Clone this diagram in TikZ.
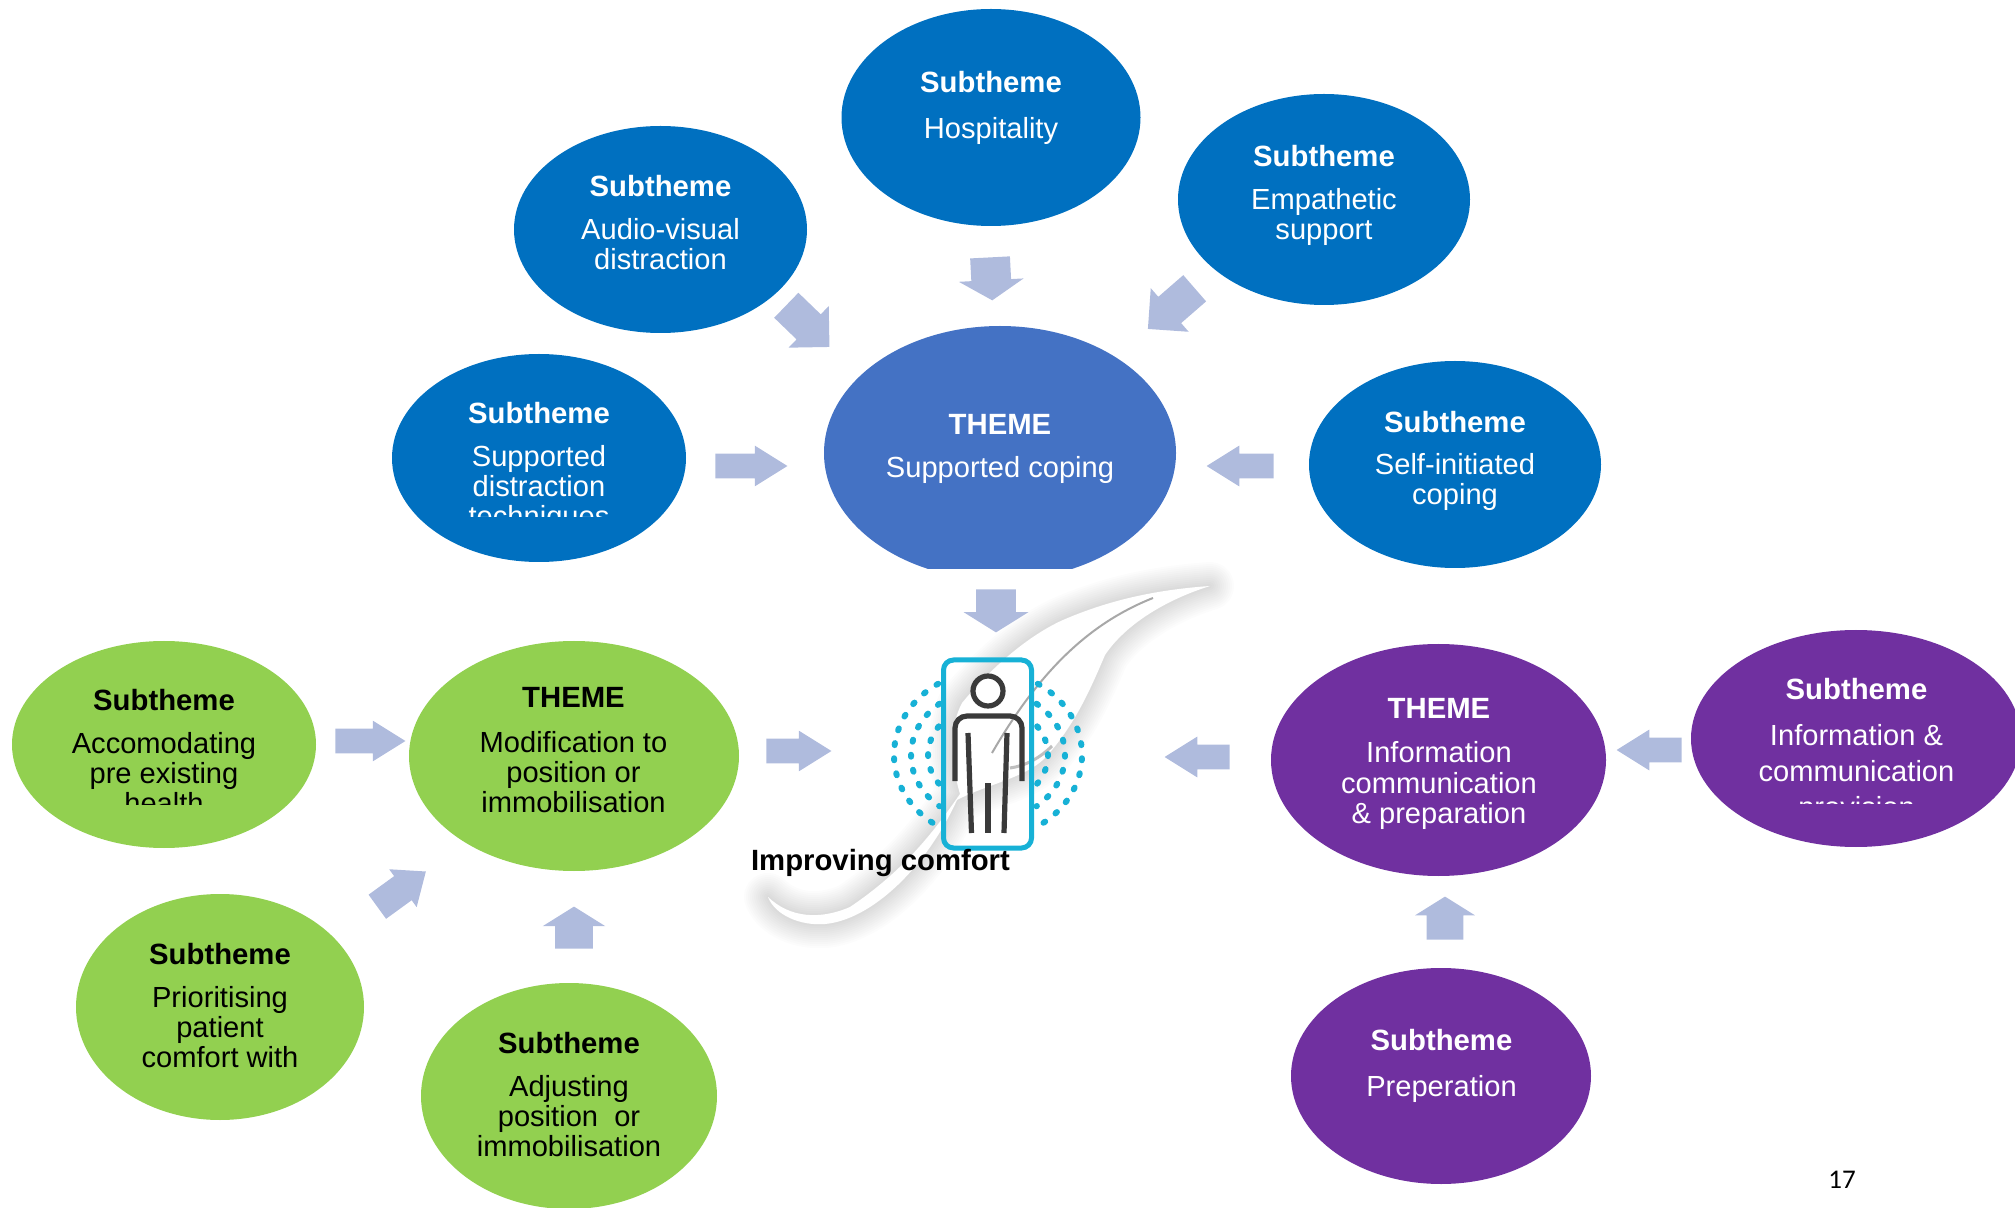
\documentclass[tikz,border=0pt]{standalone}
\usepackage{fontspec}
\setmainfont{Liberation Sans}
\newfontfamily\pagefont{Carlito}
\usetikzlibrary{shapes.geometric, shapes.arrows}
\definecolor{subblue}{HTML}{0070C0}
\definecolor{themeblue}{HTML}{4472C4}
\definecolor{leafgreen}{HTML}{92D050}
\definecolor{deeppurple}{HTML}{7030A0}
\definecolor{arrowblue}{HTML}{AFBBDD}
\definecolor{bedteal}{HTML}{17B1D6}
\definecolor{figgrey}{HTML}{3A3A3A}
\newcommand{\tith}[1]{{\fontsize{14.65}{15}\selectfont\bfseries #1}}
\tikzset{
  oval/.style 2 args={ellipse, inner sep=0pt, minimum width=#1*0.5pt, minimum height=#2*0.5pt},
  txt/.style={anchor=north, align=center, inner sep=0pt, font=\fontsize{14.55}{15}\selectfont},
  blockarrow/.style={single arrow, anchor=tail, inner xsep=0pt, fill=arrowblue, minimum height=#1*0.5pt},
  flatarrow/.style={blockarrow=#1, inner ysep=6pt, minimum width=20pt, single arrow head extend=4pt, single arrow tip angle=64},
  fatarrow/.style={blockarrow=#1, inner ysep=9.75pt, minimum width=32pt, single arrow head extend=6.25pt, single arrow tip angle=116},
  slantarrow/.style={blockarrow=#1, inner ysep=8.5pt, minimum width=28.5pt, single arrow head extend=5.75pt, single arrow tip angle=90},
  dotring/.style={draw=bedteal, line width=3pt, line cap=round, dash pattern=on 1pt off 6.6pt},
}
\begin{document}
\begin{tikzpicture}[x=0.5pt, y=-0.5pt]
      \useasboundingbox (0,0) rectangle (2015,1208);
      \def\leafpath{(1210,586) .. controls (1153,590) and (1107,601) .. (1063,620)
        .. controls (1023,638) and (985,675) .. (962,703)
        .. controls (950,725) and (950,760) .. (960,794)
        .. controls (935,830) and (905,870) .. (850,907)
        .. controls (820,920) and (790,918) .. (768,897)
        .. controls (775,915) and (800,926) .. (825,924)
        .. controls (870,920) and (925,870) .. (957,800)
        .. controls (985,785) and (1025,778) .. (1045,758)
        .. controls (1075,725) and (1090,690) .. (1105,655)
        .. controls (1125,625) and (1165,600) .. (1210,586) -- cycle}
      \foreach \w in {4,8,...,48} {
        \draw [black, opacity=0.01, line width=\w*0.5pt, line join=round] \leafpath;
      }
      \fill [white] \leafpath;
      \draw [white!75!black, line width=1.5pt] (1010,768) .. controls (1025,766) and (1040,758) .. (1052,746);
      \draw [white!66!black, line width=1pt] (1153,598) .. controls (1090,623) and (1040,670) .. (992,753);

      \begin{scope}
        \clip (0,0) rectangle (2015,569);
        \node [oval={352}{254}, fill=themeblue] (coping) at (1000,453) {};
      \end{scope}
      \node [oval={299}{217}, fill=subblue] (hosp) at (991,117.5) {};
      \node [oval={293}{207}, fill=subblue] (audio) at (660.5,229.5) {};
      \node [oval={292}{211}, fill=subblue] (empath) at (1324,199.5) {};
      \node [oval={294}{208}, fill=subblue] (suppd) at (539,458) {};
      \node [oval={292}{207}, fill=subblue] (selfi) at (1455,464.5) {};
      \node [oval={304}{207}, fill=leafgreen] (accom) at (164,744.5) {};
      \node [oval={330}{230}, fill=leafgreen] (modif) at (574,756) {};
      \node [oval={288}{226}, fill=leafgreen] (prior) at (220,1007) {};
      \node [oval={296}{226}, fill=leafgreen] (adjust) at (569,1096) {};
      \node [oval={335}{232}, fill=deeppurple] (infoc) at (1438.5,760) {};
      \node [oval={330}{217}, fill=deeppurple] (infop) at (1856,738.5) {};
      \node [oval={300}{216}, fill=deeppurple] (prep) at (1441,1076) {};

      \node [txt, white] (hospt) at (991,71) {\tith{Subtheme}\\[8pt]Hospitality};
      \node [txt, white] (audiot) at (660.5,175) {\tith{Subtheme}\\[6.5pt]Audio-visual\\distraction};
      \node [txt, white] (empatht) at (1324,144.5) {\tith{Subtheme}\\[6.5pt]Empathetic\\support};
      \begin{scope}
        \clip (0,0) rectangle (2015,517);
        \node [txt, white] (suppdt) at (539,402) {\tith{Subtheme}\\[6.5pt]Supported\\distraction\\techniques};
      \end{scope}
      \node [txt, white] (selfit) at (1455,411) {\tith{Subtheme}\\[6pt]Self-initiated\\coping};
      \node [txt, white] (copingt) at (1000,413.5) {\tith{THEME}\\[6.5pt]Supported coping};
      \begin{scope}
        \clip (0,0) rectangle (2015,804);
        \node [txt] (accomt) at (164,689) {\tith{Subtheme}\\[6.5pt]Accomodating\\pre existing\\health};
      \end{scope}
      \node [txt] (modift) at (573.5,686.5) {\tith{THEME}\\[7.5pt]Modification to\\position or\\immobilisation};
      \node [txt] (priort) at (220,943) {\tith{Subtheme}\\[6.5pt]Prioritising\\patient\\comfort with};
      \node [txt] (adjustt) at (569,1032) {\tith{Subtheme}\\[6.5pt]Adjusting\\position\ \ or\\immobilisation};
      \node [txt, white] (infoct) at (1439,698) {\tith{THEME}\\[7pt]Information\\[0.3pt]communication\\[0.3pt]\& preparation};
      \begin{scope}
        \clip (0,0) rectangle (2015,803);
        \node [txt, white] (infopt) at (1856.5,678) {\tith{Subtheme}\\[8pt]Information \&\\[3pt]communication\\[3pt]provision};
      \end{scope}
      \node [txt, white] (prept) at (1441.5,1029) {\tith{Subtheme}\\[8pt]Preperation};

      \node [fatarrow=43, rotate=-87] (hosparr) at (990,257) {};
      \node [slantarrow=60, rotate=-44] (audioarr) at (786,305) {};
      \node [slantarrow=62, rotate=221] (empatharr) at (1195,288) {};
      \node [flatarrow=72] (suppdarr) at (715,466) {};
      \node [flatarrow=67, rotate=180] (selfiarr) at (1274,466) {};
      \node [fatarrow=43, rotate=-90] (copingarr) at (996,589) {};
      \node [flatarrow=65] (modifarr) at (766,751) {};
      \node [flatarrow=65, rotate=180] (infocarr) at (1230,757) {};
      \node [flatarrow=70] (accomarr) at (335,741) {};
      \node [slantarrow=60, rotate=36, inner ysep=7.25pt, minimum width=23pt, single arrow tip angle=79, single arrow head extend=4.25pt] (priorarr) at (377,907) {};
      \node [fatarrow=42, rotate=90, inner ysep=9.25pt, minimum width=31pt] (adjustarr) at (574,949) {};
      \node [fatarrow=43, rotate=90, inner ysep=9pt, minimum width=29.5pt, single arrow head extend=5.75pt] (preparr) at (1445,940) {};
      \node [flatarrow=65, rotate=180] (infoparr) at (1682,750) {};

      \foreach \rx/\ry/\ang in {94/84/58, 77/66/51, 60/50/35} {
        \draw [dotring] ({988+\rx*cos(\ang)},{755-\ry*sin(\ang)}) arc [start angle=\ang, end angle=-\ang, x radius=\rx, y radius=-\ry];
        \draw [dotring] ({988-\rx*cos(\ang)},{755-\ry*sin(\ang)}) arc [start angle=180-\ang, end angle=180+\ang, x radius=\rx, y radius=-\ry];
      }
      \node [draw=bedteal, line width=2.5pt, rounded corners=5pt, inner sep=0pt, minimum width=44pt, minimum height=94pt] (bed) at (987.5,754) {};
      \node [ellipse, draw=figgrey, line width=2.6pt, inner sep=0pt, minimum width=15pt, minimum height=15pt] (head) at (988,691) {};
      \draw [figgrey, line width=2.6pt, rounded corners=6pt] (955,781) -- (955,716) -- (1022,716) -- (1022,781);
      \draw [figgrey, line width=2.6pt] (968,733) -- (971.5,833);
      \draw [figgrey, line width=2.6pt] (1007,733) -- (1004,833);
      \draw [figgrey, line width=2.6pt] (988,783) -- (988,833);

      \node [inner sep=0pt, anchor=base, font=\fontsize{14.65}{15}\selectfont\bfseries] (comfort) at (880.5,870) {Improving comfort};
      \node [inner sep=0pt, anchor=base, font=\fontsize{13.5}{15}\selectfont\pagefont] (pageno) at (1842,1188) {17};
    \end{tikzpicture}
\end{document}
